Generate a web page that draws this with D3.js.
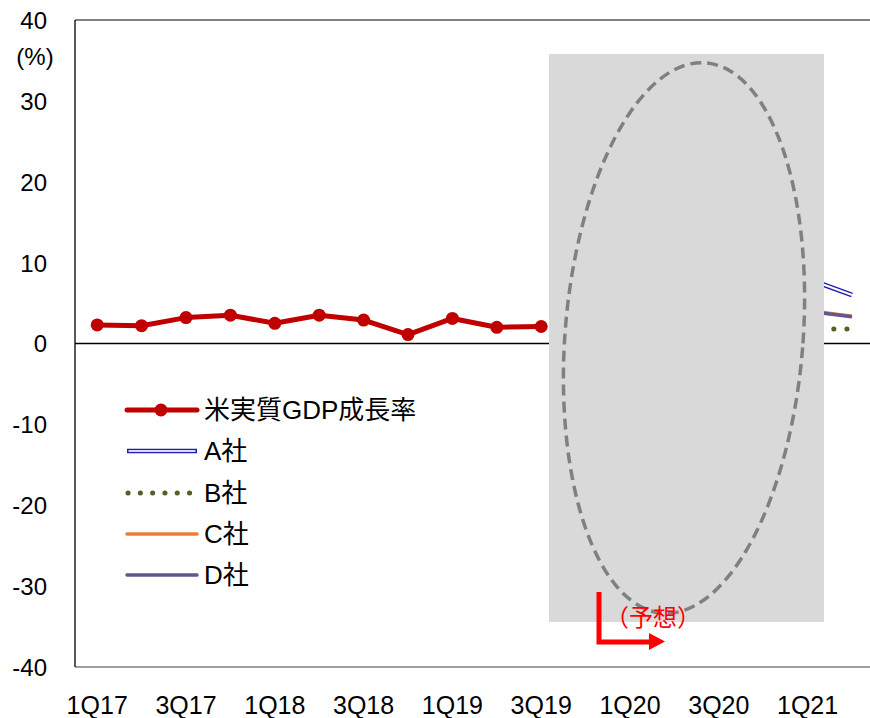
<!DOCTYPE html>
<html>
<head>
<meta charset="utf-8">
<script src="https://cdn.jsdelivr.net/npm/d3@7"></script>
<style>
  html, body { margin: 0; padding: 0; background: #fff; }
  svg { display: block; }
  text { font-family: "Liberation Sans", Arial, "Noto Sans CJK JP", sans-serif; fill: #000; }
</style>
</head>
<body>
<svg id="chart" width="870" height="718"></svg>
<script>
// Quarters on the horizontal axis
const quarters = ["1Q17","2Q17","3Q17","4Q17","1Q18","2Q18","3Q18","4Q18",
                  "1Q19","2Q19","3Q19","4Q19","1Q20","2Q20","3Q20","4Q20","1Q21","2Q21"];
const tickLabels = ["1Q17","3Q17","1Q18","3Q18","1Q19","3Q19","1Q20","3Q20","1Q21"];
const yTicks = [40, 30, 20, 10, 0, -10, -20, -30, -40];

// US real GDP growth (annualised q/q, %)
const gdp = [2.3, 2.2, 3.2, 3.5, 2.5, 3.5, 2.9, 1.1, 3.1, 2.0, 2.1,
             null, null, null, null, null, null, null];
// Forecasts by company (only the 2021 stretch is shown outside the shaded block)
const firmA = [null,null,null,null,null,null,null,null,null,null,null,null,null,null,null,null, 8.0, 6.0];
const firmB = [null,null,null,null,null,null,null,null,null,null,null,null,null,null,null,null, 1.8, 1.8];
const firmC = [null,null,null,null,null,null,null,null,null,null,null,null,null,null,null,null, 4.1, 3.4];
const firmD = [null,null,null,null,null,null,null,null,null,null,null,null,null,null,null,null, 4.0, 3.3];

(function draw() {
  const svg = d3.select("#chart");
  const plotLeft = 75, plotTop = 20, plotBottom = 667;
  const step = 44.4;
  const plotRight = plotLeft + step * quarters.length;

  const x = d3.scaleBand().domain(quarters).range([plotLeft, plotRight]).padding(0);
  const y = d3.scaleLinear().domain([-40, 40]).range([plotBottom, plotTop]);
  const cx = q => x(q) + x.bandwidth() / 2;

  // Frame lines
  svg.append("line").attr("x1", plotLeft).attr("x2", 870).attr("y1", plotTop).attr("y2", plotTop)
    .attr("stroke", "#595959").attr("stroke-width", 1.5);
  svg.append("line").attr("x1", plotLeft).attr("x2", 870).attr("y1", plotBottom).attr("y2", plotBottom)
    .attr("stroke", "#7f7f7f").attr("stroke-width", 1.5);
  svg.append("line").attr("x1", plotLeft).attr("x2", plotLeft).attr("y1", plotTop).attr("y2", plotBottom)
    .attr("stroke", "#000").attr("stroke-width", 1.3);

  // Y axis labels (plain hyphen for negatives)
  const yAxis = d3.axisLeft(y).tickValues(yTicks).tickSize(0).tickPadding(0)
    .tickFormat(d => String(d));
  const gy = svg.append("g").attr("transform", "translate(47,0)").call(yAxis);
  gy.select(".domain").remove();
  gy.selectAll("text").attr("font-size", 24).attr("dy", "0.35em")
    .style("font-family", "'Liberation Sans', Arial, sans-serif").attr("fill", "#000");
  svg.append("text").attr("x", 35).attr("y", 57).attr("text-anchor", "middle")
    .attr("dy", "0.35em").attr("font-size", 24).text("(%)");

  // X axis labels
  const xAxis = d3.axisBottom(x).tickValues(tickLabels).tickSize(0).tickPadding(0);
  const gx = svg.append("g").attr("transform", "translate(0,696)").call(xAxis);
  gx.select(".domain").remove();
  gx.selectAll("text").attr("font-size", 25).attr("dy", "0.71em")
    .style("font-family", "'Liberation Sans', Arial, sans-serif").attr("fill", "#000");

  // Zero line
  svg.append("line").attr("x1", plotLeft).attr("x2", 870).attr("y1", y(0)).attr("y2", y(0))
    .attr("stroke", "#000").attr("stroke-width", 1.5);

  const line = d3.line()
    .defined(d => d.v != null)
    .x(d => cx(d.q))
    .y(d => y(d.v));
  const pts = arr => quarters.map((q, i) => ({ q, v: arr[i] }));

  // Company forecasts
  svg.append("path").attr("d", line(pts(firmC))).attr("fill", "none")
    .attr("stroke", "#ed7d31").attr("stroke-width", 3);
  svg.append("path").attr("d", line(pts(firmD))).attr("fill", "none")
    .attr("stroke", "#64558c").attr("stroke-width", 3.5);
  svg.append("path").attr("d", line(pts(firmB))).attr("fill", "none")
    .attr("stroke", "#4f6228").attr("stroke-width", 5).attr("stroke-linecap", "round")
    .attr("stroke-dasharray", "0.1 13");
  svg.append("path").attr("d", line(pts(firmA))).attr("fill", "none")
    .attr("stroke", "#1f1fb4").attr("stroke-width", 5);
  svg.append("path").attr("d", line(pts(firmA))).attr("fill", "none")
    .attr("stroke", "#ffffff").attr("stroke-width", 2);

  // Actual GDP
  svg.append("path").attr("d", line(pts(gdp))).attr("fill", "none")
    .attr("stroke", "#c00000").attr("stroke-width", 5).attr("stroke-linejoin", "round");
  svg.selectAll("circle.gdp").data(pts(gdp).filter(d => d.v != null)).join("circle")
    .attr("class", "gdp").attr("cx", d => cx(d.q)).attr("cy", d => y(d.v)).attr("r", 6.5)
    .attr("fill", "#c00000");

  // Shaded block over the pandemic quarters
  svg.append("rect").attr("x", 549).attr("y", 54).attr("width", 275).attr("height", 568)
    .attr("fill", "#d9d9d9");

  // Dashed oval marking the swing
  svg.append("ellipse").attr("cx", 0).attr("cy", 0).attr("rx", 119).attr("ry", 276)
    .attr("transform", "translate(684,338) rotate(4.5)")
    .attr("fill", "none").attr("stroke", "#808080").attr("stroke-width", 3.5)
    .attr("stroke-dasharray", "11 6");

  // Forecast marker
  svg.append("path").attr("d", "M599,592 L599,642 L651,642")
    .attr("fill", "none").attr("stroke", "#ff0000").attr("stroke-width", 5);
  svg.append("path").attr("d", "M649,633 L665,641.5 L649,650 Z").attr("fill", "#ff0000");
  svg.append("text").attr("x", 605).attr("y", 617).attr("dy", "0.36em")
    .attr("font-size", 24)
    .style("font-family", "'Noto Sans CJK JP', sans-serif").style("fill", "#ff0000")
    .text("（予想）");

  // Legend
  const legend = [
    { name: "米実質GDP成長率", y: 410, kind: "gdp" },
    { name: "A社", y: 451, kind: "a" },
    { name: "B社", y: 493, kind: "b" },
    { name: "C社", y: 534, kind: "c" },
    { name: "D社", y: 575, kind: "d" }
  ];
  const lg = svg.append("g");
  legend.forEach(it => {
    const g = lg.append("g");
    if (it.kind === "gdp") {
      g.append("line").attr("x1", 127).attr("x2", 197).attr("y1", it.y).attr("y2", it.y)
        .attr("stroke", "#c00000").attr("stroke-width", 5).attr("stroke-linecap", "round");
      g.append("circle").attr("cx", 161).attr("cy", it.y).attr("r", 6.5).attr("fill", "#c00000");
    } else if (it.kind === "a") {
      g.append("line").attr("x1", 127).attr("x2", 197).attr("y1", it.y).attr("y2", it.y)
        .attr("stroke", "#1f1fb4").attr("stroke-width", 4.5);
      g.append("line").attr("x1", 128.5).attr("x2", 195.5).attr("y1", it.y).attr("y2", it.y)
        .attr("stroke", "#d6dcf5").attr("stroke-width", 1.8);
    } else if (it.kind === "b") {
      g.append("line").attr("x1", 128).attr("x2", 198).attr("y1", it.y).attr("y2", it.y)
        .attr("stroke", "#4f6228").attr("stroke-width", 5).attr("stroke-linecap", "round")
        .attr("stroke-dasharray", "0.1 12.2");
    } else {
      g.append("line").attr("x1", 127).attr("x2", 197).attr("y1", it.y).attr("y2", it.y)
        .attr("stroke", it.kind === "c" ? "#ed7d31" : "#64558c")
        .attr("stroke-width", 3.5).attr("stroke-linecap", "round");
    }
    g.append("text").attr("x", 204).attr("y", it.y).attr("dy", "0.36em")
      .attr("font-size", 26).text(it.name);
  });
})();
</script>
</body>
</html>
